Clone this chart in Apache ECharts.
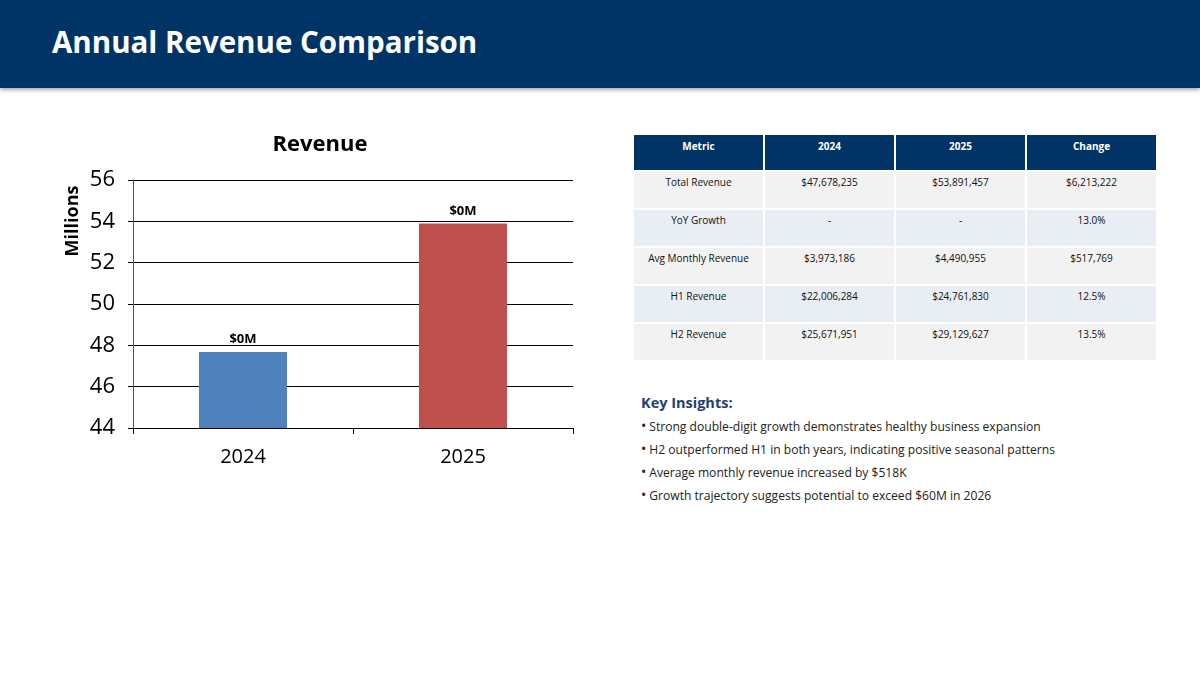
<!DOCTYPE html>
<html>
<head>
<meta charset="utf-8">
<script src="https://cdn.jsdelivr.net/npm/echarts@6/dist/echarts.min.js"></script>
<style>
  html, body { margin: 0; padding: 0; background: #fff; }
  body { width: 1200px; height: 674px; position: relative; overflow: hidden; font-family: "Open Sans", sans-serif; }
  #header {
    position: absolute; left: 0; top: 0; width: 1200px; height: 88px;
    background: #003466; box-shadow: 0 2px 4px rgba(0,0,0,0.35);
  }
  #header h1 {
    margin: 0; position: absolute; left: 52px; top: 21px;
    color: #fff; font-size: 29.5px; font-weight: 700; letter-spacing: 0;
  }
  #chart { position: absolute; left: 0; top: 100px; width: 600px; height: 400px; }
  #tbl {
    position: absolute; left: 632px; top: 133px; width: 526px;
    border-collapse: collapse; table-layout: fixed;
  }
  #tbl th, #tbl td { border: 2px solid #fff; text-align: center; font-size: 10px; box-sizing: border-box; }
  #tbl th { background: #003466; color: #fff; font-weight: 700; height: 37px; vertical-align: top; padding-top: 4px; }
  #tbl td { height: 38px; vertical-align: top; padding-top: 3px; color: #111; }
  #tbl tr.odd td { background: #f2f2f2; }
  #tbl tr.even td { background: #e9edf4; }
  #insights { position: absolute; left: 641px; top: 393px; }
  #insights h3 { margin: 0 0 3px 0; color: #1f3f73; font-size: 14.5px; font-weight: 700; }
  #insights div { font-size: 12.1px; color: #222; line-height: 22px; }
  #insights span { font-size: 14px; margin-right: 3px; }
</style>
</head>
<body>
<div id="header"><h1>Annual Revenue Comparison</h1></div>
<div id="chart"></div>
<table id="tbl"></table>
<div id="insights"></div>
<script>
// chart data
var years = ["2024", "2025"];
var revenue = [47678235, 53891457];
var barColors = ["#4f81bd", "#c0504d"];

// table data
var tableHead = ["Metric", "2024", "2025", "Change"];
var tableRows = [
  ["Total Revenue", "$47,678,235", "$53,891,457", "$6,213,222"],
  ["YoY Growth", "-", "-", "13.0%"],
  ["Avg Monthly Revenue", "$3,973,186", "$4,490,955", "$517,769"],
  ["H1 Revenue", "$22,006,284", "$24,761,830", "12.5%"],
  ["H2 Revenue", "$25,671,951", "$29,129,627", "13.5%"]
];

var insightsTitle = "Key Insights:";
var insights = [
  "Strong double-digit growth demonstrates healthy business expansion",
  "H2 outperformed H1 in both years, indicating positive seasonal patterns",
  "Average monthly revenue increased by $518K",
  "Growth trajectory suggests potential to exceed $60M in 2026"
];

// build table
var tbl = document.getElementById("tbl");
var html = "<tr>" + tableHead.map(function (h) { return "<th>" + h + "</th>"; }).join("") + "</tr>";
tableRows.forEach(function (r, i) {
  html += '<tr class="' + (i % 2 === 0 ? "odd" : "even") + '">' +
    r.map(function (c) { return "<td>" + c + "</td>"; }).join("") + "</tr>";
});
tbl.innerHTML = html;

// insights
var ins = document.getElementById("insights");
ins.innerHTML = "<h3>" + insightsTitle + "</h3>" +
  insights.map(function (t) { return "<div><span>\u2022</span>" + t + "</div>"; }).join("");

// chart
var myChart = echarts.init(document.getElementById("chart"));
var option = {
  animation: false,
  title: {
    text: "Revenue",
    left: 315,
    textAlign: "center",
    top: 29,
    textStyle: { fontFamily: "Open Sans", fontSize: 22, fontWeight: "bold", color: "#000" }
  },
  graphic: [{
    type: "text",
    x: 73,
    y: 121,
    rotation: Math.PI / 2,
    style: {
      text: "Millions",
      fontFamily: "Open Sans",
      fontSize: 18,
      fontWeight: "bold",
      fill: "#000",
      textAlign: "center",
      textVerticalAlign: "middle"
    }
  }],
  grid: { left: 133, right: 27, top: 80, bottom: 72 },
  xAxis: {
    type: "category",
    data: years,
    axisLine: { lineStyle: { color: "#000", width: 1 } },
    axisTick: { show: true, length: 6, alignWithLabel: false, lineStyle: { color: "#000" } },
    axisLabel: { fontFamily: "Open Sans", fontSize: 20, color: "#000", margin: 19 }
  },
  yAxis: {
    type: "value",
    min: 44,
    max: 56,
    interval: 2,
    axisLine: { show: true, lineStyle: { color: "#555" } },
    axisTick: { show: true, length: 5, lineStyle: { color: "#000" } },
    axisLabel: { fontFamily: "Open Sans", fontSize: 22, color: "#000", margin: 18 },
    splitLine: { lineStyle: { color: "#000", width: 1 } }
  },
  series: [{
    type: "bar",
    barWidth: "40%",
    data: revenue.map(function (v, i) {
      return { value: v / 1e6, itemStyle: { color: barColors[i] } };
    }),
    label: {
      show: true,
      position: "top",
      distance: 6,
      fontFamily: "Open Sans",
      fontSize: 13,
      fontWeight: "bold",
      color: "#000",
      // value is already in millions, so dividing again rounds to $0M as in the source
      formatter: function (p) { return "$" + Math.round(p.value / 1e6) + "M"; }
    }
  }]
};
myChart.setOption(option);
</script>
</body>
</html>
